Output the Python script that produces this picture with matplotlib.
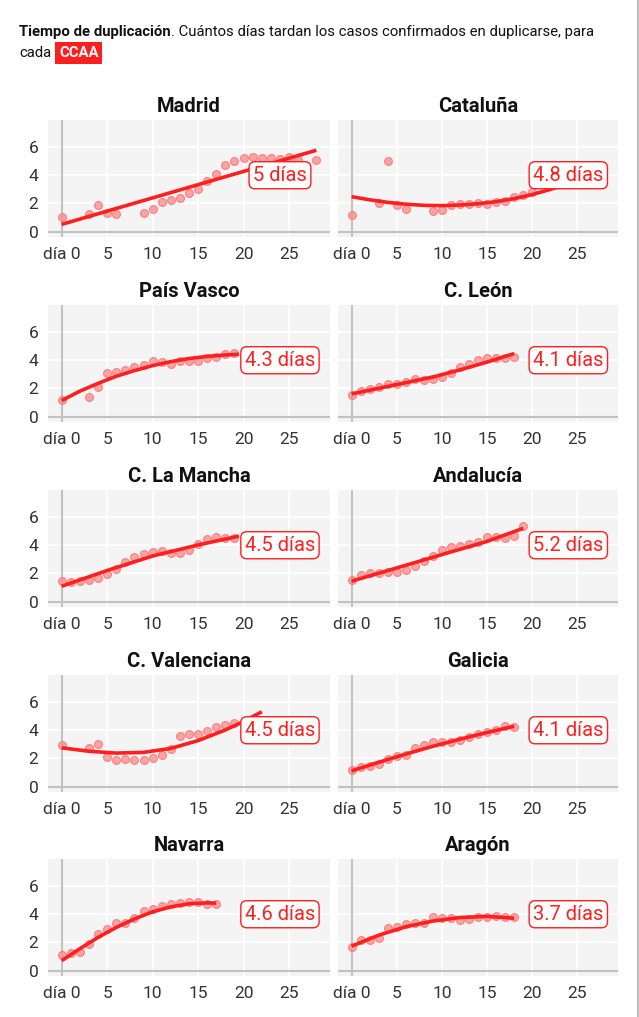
import matplotlib
matplotlib.use("Agg")
import matplotlib.pyplot as plt
from matplotlib.lines import Line2D
from matplotlib.transforms import offset_copy

plt.rcParams['font.family'] = ['Roboto', 'DejaVu Sans']

RED = "#ff1f1f"

# region names, in reading order
regions = ["Madrid", "Cataluña", "País Vasco", "C. León", "C. La Mancha",
           "Andalucía", "C. Valenciana", "Galicia", "Navarra", "Aragón"]

labels = ["5 días", "4.8 días", "4.3 días", "4.1 días", "4.5 días",
          "5.2 días", "4.5 días", "4.1 días", "4.6 días", "3.7 días"]

# observed points (day, doubling time)
madrid_x = [0, 3, 4, 5, 6, 9, 10, 11, 12, 13, 14, 15, 16, 17, 18, 19, 20, 21, 22, 23, 24, 25, 26, 28]
madrid_y = [1.06, 1.22, 1.88, 1.34, 1.22, 1.34, 1.58, 2.09, 2.24, 2.38, 2.73, 3.04, 3.55, 4.09, 4.68,
            5.01, 5.22, 5.29, 5.22, 5.22, 5.15, 5.29, 5.03, 5.03]

cataluna_x = [0, 3, 4, 5, 6, 9, 10, 11, 12, 13, 14, 15, 16, 17, 18, 19, 20]
cataluna_y = [1.18, 2.05, 4.96, 1.86, 1.6, 1.48, 1.55, 1.91, 1.98, 1.98, 2.02, 1.98, 2.09, 2.19,
              2.42, 2.61, 2.82]

vasco_x = [0, 3, 4, 5, 6, 7, 8, 9, 10, 11, 12, 13, 14, 15, 16, 17, 18, 19]
vasco_y = [1.18, 1.42, 2.11, 3.06, 3.15, 3.32, 3.53, 3.67, 3.93, 3.84, 3.72, 3.96, 3.96, 3.96,
           4.12, 4.24, 4.43, 4.5]

leon_x = list(range(0, 19))
leon_y = [1.56, 1.78, 1.94, 2.09, 2.32, 2.32, 2.44, 2.63, 2.61, 2.68, 2.8, 3.08, 3.48, 3.74,
          4.03, 4.15, 4.15, 4.12, 4.22]

mancha_x = list(range(0, 20))
mancha_y = [1.49, 1.4, 1.47, 1.54, 1.64, 1.94, 2.3, 2.8, 3.18, 3.36, 3.51, 3.58, 3.46, 3.44,
            3.65, 4.05, 4.41, 4.57, 4.48, 4.5]

andalucia_x = list(range(0, 20))
andalucia_y = [1.54, 1.85, 2.01, 2.04, 2.06, 2.11, 2.27, 2.49, 2.89, 3.22, 3.67, 3.89, 3.96,
               4.1, 4.24, 4.53, 4.53, 4.5, 4.62, 5.31]

valencia_x = [0, 3, 4, 5, 6, 7, 8, 9, 10, 11, 12, 13, 14, 15, 16, 17, 18, 19]
valencia_y = [2.93, 2.74, 2.98, 2.1, 1.9, 1.93, 1.9, 1.9, 2.0, 2.21, 2.69, 3.6, 3.69, 3.74,
              3.95, 4.19, 4.38, 4.52]

galicia_x = list(range(0, 19))
galicia_y = [1.21, 1.4, 1.45, 1.57, 1.98, 2.14, 2.26, 2.74, 2.95, 3.17, 3.14, 3.12, 3.31, 3.5,
             3.69, 3.88, 4.0, 4.29, 4.21]

navarra_x = list(range(0, 18))
navarra_y = [1.09, 1.23, 1.35, 1.9, 2.56, 2.94, 3.34, 3.36, 3.72, 4.19, 4.36, 4.55, 4.67, 4.76,
             4.83, 4.86, 4.67, 4.67]

aragon_x = list(range(0, 19))
aragon_y = [1.68, 2.16, 2.2, 2.32, 2.99, 3.1, 3.27, 3.34, 3.36, 3.82, 3.74, 3.7, 3.6, 3.67,
            3.77, 3.77, 3.84, 3.77, 3.79]

# fitted trend
madrid_fx = [0, 28]
madrid_fy = [0.52, 5.74]
cataluna_fx = [0, 2, 4, 6, 8, 10, 12, 14, 16, 18, 20, 22, 24]
cataluna_fy = [2.47, 2.25, 2.07, 1.94, 1.86, 1.84, 1.88, 1.97, 2.12, 2.33, 2.62, 2.98, 3.4]
vasco_fx = [0, 2, 4, 6, 8, 10, 12, 14, 16, 18, 19.5]
vasco_fy = [1.14, 1.8, 2.35, 2.85, 3.25, 3.6, 3.88, 4.1, 4.25, 4.35, 4.4]
leon_fx = [0, 3, 6, 9, 12, 15, 18]
leon_fy = [1.61, 2.0, 2.4, 2.8, 3.3, 3.85, 4.45]
mancha_fx = [0, 5, 10, 15, 19.5]
mancha_fy = [1.09, 2.2, 3.22, 4.0, 4.62]
andalucia_fx = [0, 5, 10, 15, 19]
andalucia_fy = [1.45, 2.38, 3.32, 4.25, 5.17]
valencia_fx = [0, 3, 6, 9, 12, 15, 18, 20, 22]
valencia_fy = [2.74, 2.5, 2.37, 2.42, 2.7, 3.25, 4.0, 4.6, 5.28]
galicia_fx = [0, 3, 6, 9, 12, 15, 18]
galicia_fy = [1.12, 1.72, 2.3, 2.85, 3.35, 3.82, 4.26]
navarra_fx = [0, 2, 4, 6, 8, 10, 12, 14, 16, 17]
navarra_fy = [0.71, 1.55, 2.35, 3.05, 3.65, 4.15, 4.5, 4.72, 4.78, 4.76]
aragon_fx = [0, 3, 6, 9, 12, 15, 18]
aragon_fy = [1.73, 2.5, 3.1, 3.5, 3.75, 3.83, 3.7]

points = [(madrid_x, madrid_y), (cataluna_x, cataluna_y), (vasco_x, vasco_y),
          (leon_x, leon_y), (mancha_x, mancha_y), (andalucia_x, andalucia_y),
          (valencia_x, valencia_y), (galicia_x, galicia_y), (navarra_x, navarra_y),
          (aragon_x, aragon_y)]
fits = [(madrid_fx, madrid_fy), (cataluna_fx, cataluna_fy), (vasco_fx, vasco_fy),
        (leon_fx, leon_fy), (mancha_fx, mancha_fy), (andalucia_fx, andalucia_fy),
        (valencia_fx, valencia_fy), (galicia_fx, galicia_fy), (navarra_fx, navarra_fy),
        (aragon_fx, aragon_fy)]

x_ticks = [0, 5, 10, 15, 20, 25]
x_tick_labels = ["día 0", "5", "10", "15", "20", "25"]
y_ticks = [0, 2, 4, 6]

W, H = 639, 1017
fig = plt.figure(figsize=(W / 100, H / 100), dpi=100)

# title: bold lead-in followed by normal text on the same line
t1 = fig.text(19 / W, 1 - 32 / H, "Tiempo de duplicación", fontsize=10.7, fontweight="bold",
              va="center", ha="left", color="#111111")
renderer = fig.canvas.get_renderer()
w1 = t1.get_window_extent(renderer).width
fig.text(19 / W, 1 - 32 / H, ". Cuántos días tardan los casos confirmados en duplicarse, para",
         fontsize=10.7, va="center", ha="left", color="#111111",
         transform=offset_copy(fig.transFigure, fig=fig, x=w1, y=0, units="dots"))
fig.text(19 / W, 1 - 53 / H, "cada", fontsize=10.7, va="center", ha="left", color="#111111")
fig.text(59 / W, 1 - 53 / H, "CCAA", fontsize=10.7, fontweight="bold", va="center", ha="left",
         color="white", bbox=dict(boxstyle="square,pad=0.25", fc=RED, ec="none"))

# right border
fig.add_artist(Line2D([637.5 / W, 637.5 / W], [0, 1], color="#bbbbbb", lw=1.5))

lefts = [48, 338]
widths = [282, 280]
tops = [120, 305, 490, 675, 859]
height = 117

for i, name in enumerate(regions):
    row, col = divmod(i, 2)
    ax = fig.add_axes([lefts[col] / W, 1 - (tops[row] + height) / H, widths[col] / W, height / H])
    ax.set_facecolor("#f4f4f4")
    ax.set_xlim(-1.5, 29.5)
    ax.set_ylim(-0.37, 7.87)
    ax.set_xticks(x_ticks)
    ax.set_yticks(y_ticks)
    ax.grid(True, color="white", lw=1.2)
    ax.set_axisbelow(True)
    for s in ax.spines.values():
        s.set_visible(False)
    ax.axvline(0, color="#c2c2c2", lw=1.5, zorder=1)
    ax.axhline(0, color="#c2c2c2", lw=1.5, zorder=1)
    ax.tick_params(length=0, pad=7, labelsize=12.5, labelcolor="#333333")
    ax.set_xticklabels(x_tick_labels)
    if col == 0:
        ax.set_yticklabels([str(v) for v in y_ticks])
    else:
        ax.set_yticklabels([])

    px, py = points[i]
    ax.scatter(px, py, s=32, facecolor="#ff8a8a", edgecolor="#ff6666", alpha=0.75,
               lw=0.8, zorder=3)
    fx, fy = fits[i]
    ax.plot(fx, fy, color=RED, lw=2.6, zorder=4, solid_capstyle="butt")

    ax.text(24, 3.98, labels[i], ha="center", va="center", fontsize=14.5, color=RED,
            zorder=5,
            bbox=dict(boxstyle="round,pad=0.2,rounding_size=0.3", fc="white", ec=RED, lw=1))
    ax.set_title(name, fontsize=14.5, fontweight="bold", pad=6, color="#111111")

fig.savefig("out.png", dpi=100)
